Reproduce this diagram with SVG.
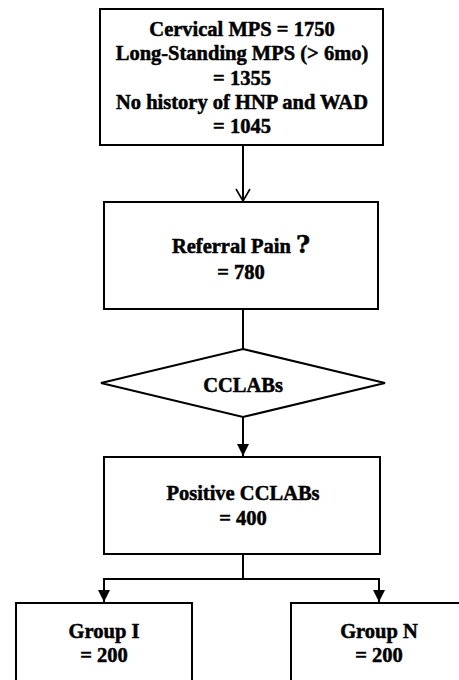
<svg xmlns="http://www.w3.org/2000/svg" width="459" height="680" viewBox="0 0 459 680">
<style>
.box{fill:#fff;stroke:#000;stroke-width:2}
.ln{fill:none;stroke:#000;stroke-width:2}
text{font-family:"Liberation Serif","Times New Roman",serif;font-weight:bold;font-size:20.5px;fill:#000;stroke:#000;stroke-width:0.5;text-anchor:middle}
</style>
<defs>
<marker id="open" markerWidth="16" markerHeight="16" refX="13" refY="8" orient="auto" markerUnits="userSpaceOnUse">
<path d="M1,1 L13,8 L1,15" fill="none" stroke="#000" stroke-width="1.6"/>
</marker>
<marker id="fill" markerWidth="14" markerHeight="14" refX="12" refY="6" orient="auto" markerUnits="userSpaceOnUse">
<path d="M0,0 L12,6 L0,12 Z" fill="#000"/>
</marker>
</defs>
<g id="connectors">
<line class="ln" x1="243" y1="145" x2="243" y2="201" marker-end="url(#open)"/>
<line class="ln" x1="243" y1="309" x2="243" y2="349"/>
<line class="ln" x1="243" y1="417" x2="243" y2="456" marker-end="url(#fill)"/>
<polyline class="ln" points="243,554 243,579"/>
<polyline class="ln" points="104,579 379,579"/>
<line class="ln" x1="104" y1="578" x2="104" y2="602" marker-end="url(#fill)"/>
<line class="ln" x1="379" y1="578" x2="379" y2="602" marker-end="url(#fill)"/>
</g>
<g id="n1">
<rect class="box" x="100" y="9" width="283" height="136"/>
<text x="242" y="36">Cervical MPS = 1750</text>
<text x="242" y="60">Long-Standing MPS (&gt; 6mo)</text>
<text x="242" y="85">= 1355</text>
<text x="242" y="109">No history of HNP and WAD</text>
<text x="242" y="133">= 1045</text>
</g>
<g id="n2">
<rect class="box" x="104" y="202" width="274" height="107"/>
<text x="241" y="253">Referral Pain <tspan font-size="24" font-family="'DejaVu Serif',serif">?</tspan></text>
<text x="241" y="279">= 780</text>
</g>
<g id="n3">
<polygon class="box" points="243,349 385,383 243,417 101,383"/>
<text x="243" y="392">CCLABs</text>
</g>
<g id="n4">
<rect class="box" x="104" y="457" width="276" height="97"/>
<text x="243" y="500">Positive CCLABs</text>
<text x="243" y="525">= 400</text>
</g>
<g id="n5">
<rect class="box" x="16" y="603" width="176" height="90"/>
<text x="104" y="638">Group I</text>
<text x="104" y="662">= 200</text>
</g>
<g id="n6">
<rect class="box" x="291" y="603" width="180" height="90"/>
<text x="379" y="638">Group N</text>
<text x="379" y="662">= 200</text>
</g>
</svg>
